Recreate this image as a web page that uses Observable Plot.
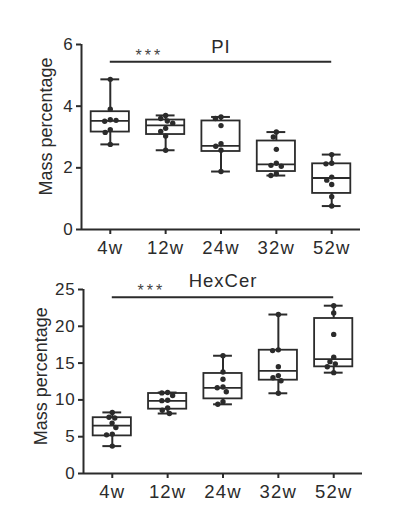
<!DOCTYPE html>
<html><head><meta charset="utf-8">
<script src="https://cdn.jsdelivr.net/npm/d3@7"></script>
<script src="https://cdn.jsdelivr.net/npm/@observablehq/plot@0.6"></script>
<style>
body{margin:0;background:#fff}
#chart{position:relative;width:398px;height:509px;overflow:hidden}
#chart svg{position:absolute;left:0}
#chart g[aria-label="x-axis tick label"] text{letter-spacing:1.2px}
#chart g[aria-label="y-axis tick label"] text{letter-spacing:0.8px}
#chart text.sig{letter-spacing:3px}
#chart text.ttl{letter-spacing:1px}
</style>
</head><body><div id="chart"></div>
<script>
// ---- data ----
const categories = ["4w", "12w", "24w", "32w", "52w"];

const piTitle = "PI";
const piPoints = [
  [4.87, 3.90, 3.56, 3.51, 3.54, 3.24, 3.15, 2.76],
  [3.70, 3.60, 3.52, 3.45, 3.28, 3.18, 3.03, 2.57],
  [3.65, 3.60, 3.37, 2.78, 2.70, 2.57, 1.88],
  [3.16, 3.00, 2.60, 2.15, 2.08, 2.05, 1.81, 1.75],
  [2.43, 2.15, 2.13, 1.70, 1.60, 1.46, 1.06, 0.76]
];
const piQ1 = [3.16, 3.08, 2.53, 1.88, 1.17];
const piMedian = [3.52, 3.38, 2.71, 2.11, 1.67];
const piQ3 = [3.82, 3.55, 3.52, 2.87, 2.13];
const piTicks = [0, 2, 4, 6];
const piSig = {from: "4w", to: "52w", y: 5.44, label: "***"};

const hexTitle = "HexCer";
const hexPoints = [
  [8.30, 7.65, 7.55, 6.85, 6.25, 5.35, 5.25, 3.72],
  [11.0, 10.95, 10.6, 9.95, 9.9, 8.9, 8.6, 8.15],
  [16.0, 13.8, 12.8, 11.75, 11.65, 11.1, 9.75, 9.4],
  [21.6, 16.8, 16.7, 14.5, 13.3, 13.0, 12.6, 10.9],
  [22.8, 21.8, 18.9, 15.8, 15.2, 14.9, 14.5, 13.7]
];
const hexQ1 = [5.11, 8.74, 10.14, 12.68, 14.49];
const hexMedian = [6.50, 9.87, 11.63, 13.94, 15.53];
const hexQ3 = [7.58, 10.87, 13.59, 16.75, 21.06];
const hexTicks = [0, 5, 10, 15, 20, 25];
const hexSig = {from: "4w", to: "52w", y: 23.95, label: "***"};

const yLabel = "Mass percentage";

// ---- style ----
const INK = "#2b2b2b";
const FONT = "Liberation Sans, Arial, Helvetica, sans-serif";
const X_DOMAIN = [-0.52, categories.length - 1 + 0.52];
const BOX_HALF = 0.345;
const CAP_HALF = 0.17;
const R = 2.7;

// simple beeswarm (like GraphPad scatter): offsets in px, left/right of centre
function swarm(values, pxPerUnit, r) {
  const D = 2 * r + 0.4;
  const placed = [];
  return values.map(v => {
    const y = v * pxPerUnit;
    const cands = [0];
    for (const p of placed) {
      const dy = Math.abs(p.y - y);
      if (dy < D) {
        const dx = Math.sqrt(D * D - dy * dy);
        cands.push(p.x + dx, p.x - dx);
      }
    }
    cands.sort((a, b) => Math.abs(a) - Math.abs(b) || a - b);
    const x = cands.find(c => placed.every(p => (p.x - c) ** 2 + (p.y - y) ** 2 >= D * D - 1e-6));
    placed.push({x, y});
    return x;
  });
}

function panel(cfg) {
  const {title, points, q1, median, q3, ticks, sig, height, mt, mb, ml, mr, top,
         labelDx, labelDy, titleDy} = cfg;
  const width = 398;
  const yMax = ticks[ticks.length - 1];
  const pxY = (height - mt - mb) / yMax;
  const pxX = (width - ml - mr) / (X_DOMAIN[1] - X_DOMAIN[0]);
  const groups = categories.map((c, i) => ({
    i, c, q1: q1[i], median: median[i], q3: q3[i],
    min: d3.min(points[i]), max: d3.max(points[i])
  }));
  const dots = [];
  points.forEach((vals, i) => {
    const offs = swarm(vals, pxY, R);
    vals.forEach((v, j) => dots.push({x: i + offs[j] / pxX, y: v}));
  });
  const sigRow = [{x1: categories.indexOf(sig.from), x2: categories.indexOf(sig.to), y: sig.y, label: sig.label}];

  const svg = Plot.plot({
    width, height,
    marginTop: mt, marginBottom: mb, marginLeft: ml, marginRight: mr,
    style: {fontFamily: FONT, color: INK, background: "transparent", overflow: "visible"},
    x: {domain: X_DOMAIN},
    y: {domain: [0, yMax]},
    marks: [
      Plot.axisY({ticks, tickFormat: d => String(d), tickSize: 5, tickPadding: 3, fontSize: 17, strokeWidth: 2, label: null}),
      Plot.axisX({ticks: categories.map((_, i) => i), tickFormat: i => categories[i],
                  tickSize: 5, tickPadding: 6, fontSize: 18.5, strokeWidth: 2, label: null}),
      Plot.ruleX([X_DOMAIN[0]], {y1: 0, y2: yMax, stroke: INK, strokeWidth: 2}),
      Plot.ruleY([0], {stroke: INK, strokeWidth: 2}),
      // whiskers
      Plot.ruleX(groups, {x: "i", y1: "min", y2: "q1", stroke: INK, strokeWidth: 2}),
      Plot.ruleX(groups, {x: "i", y1: "q3", y2: "max", stroke: INK, strokeWidth: 2}),
      Plot.ruleY(groups, {x1: d => d.i - CAP_HALF, x2: d => d.i + CAP_HALF, y: "max", stroke: INK, strokeWidth: 2}),
      Plot.ruleY(groups, {x1: d => d.i - CAP_HALF, x2: d => d.i + CAP_HALF, y: "min", stroke: INK, strokeWidth: 2}),
      // boxes
      Plot.rectY(groups, {x1: d => d.i - BOX_HALF, x2: d => d.i + BOX_HALF, y1: "q1", y2: "q3",
                          fill: "white", fillOpacity: 0, stroke: INK, strokeWidth: 1.8}),
      Plot.ruleY(groups, {x1: d => d.i - BOX_HALF, x2: d => d.i + BOX_HALF, y: "median", stroke: INK, strokeWidth: 1.8}),
      // points
      Plot.dot(dots, {x: "x", y: "y", r: R, fill: INK, stroke: null}),
      // significance
      Plot.ruleY(sigRow, {x1: "x1", x2: "x2", y: "y", stroke: INK, strokeWidth: 2}),
      Plot.text(sigRow, {x: "x1", y: "y", text: "label", dx: 39, dy: -1, lineAnchor: "bottom",
                         fontSize: 16, fill: "#444"}),
      // title
      Plot.text([title], {frameAnchor: "top", lineAnchor: "bottom", dy: titleDy, fontSize: 18.5, fill: INK}),
      // y label
      Plot.text([yLabel], {frameAnchor: "left", textAnchor: "middle", rotate: -90, dx: labelDx, dy: labelDy,
                           fontSize: 18, fill: INK})
    ]
  });
  d3.select(svg).selectAll("text").each(function() {
    const t = this.textContent;
    if (t === sig.label) this.setAttribute("class", "sig");
    if (t === title) this.setAttribute("class", "ttl");
  });
  svg.style.top = top + "px";
  return svg;
}

const chart = document.getElementById("chart");
chart.appendChild(panel({
  title: piTitle, points: piPoints, q1: piQ1, median: piMedian, q3: piQ3,
  ticks: piTicks, sig: piSig, height: 262, mt: 44, mb: 33, ml: 81, mr: 38, top: 0,
  labelDx: -35.6, labelDy: -10.5, titleDy: 8.7
}));
chart.appendChild(panel({
  title: hexTitle, points: hexPoints, q1: hexQ1, median: hexMedian, q3: hexQ3,
  ticks: hexTicks, sig: hexSig, height: 247, mt: 27, mb: 36, ml: 83, mr: 36, top: 262,
  labelDx: -42.6, labelDy: -5.2, titleDy: -2.3
}));
</script>
</body></html>
